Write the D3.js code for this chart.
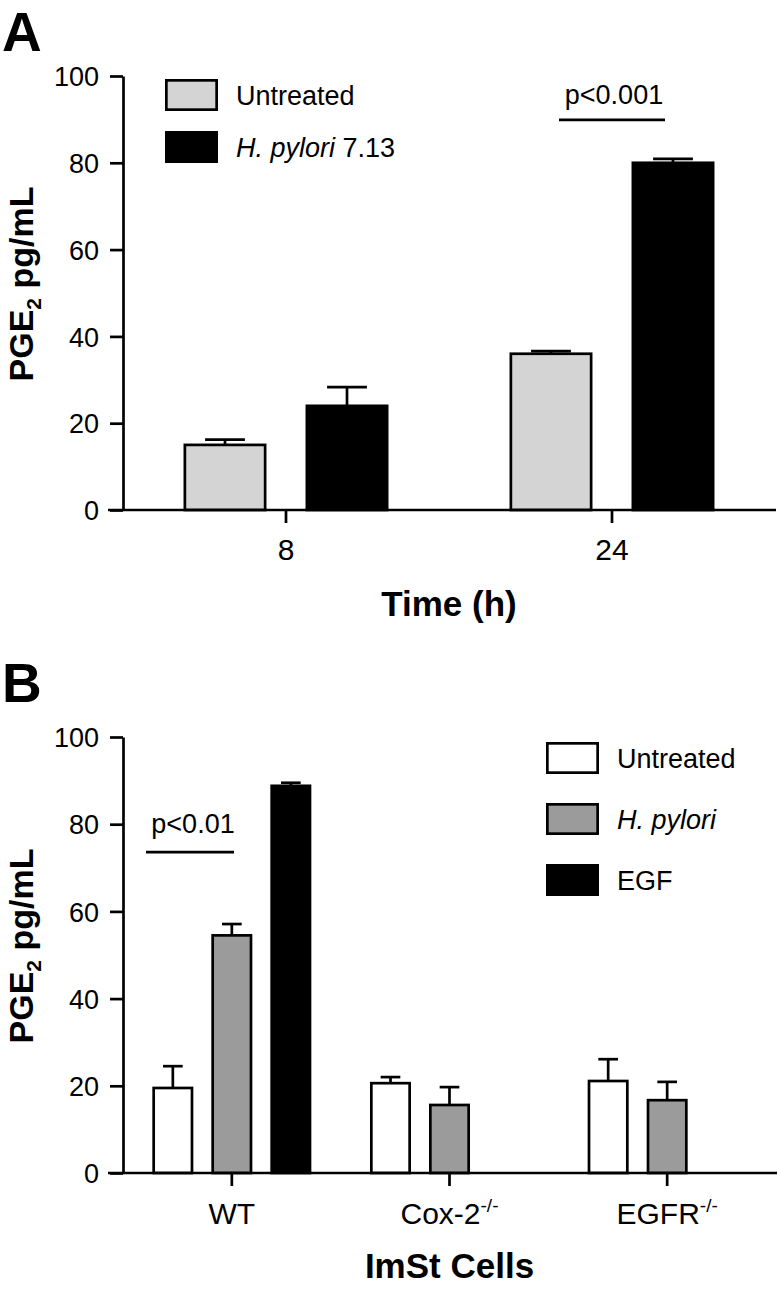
<!DOCTYPE html>
<html>
<head>
<meta charset="utf-8">
<script src="https://cdn.jsdelivr.net/npm/d3@7"></script>
<style>
  html, body { margin: 0; padding: 0; background: #fff; }
  svg { display: block; }
  text { font-family: "Liberation Sans", Arial, Helvetica, sans-serif; fill: #000; }
</style>
</head>
<body>
<svg id="chart" width="780" height="1292"></svg>
<script>
// ---------- DATA ----------
// Panel A
const timeCategories = ["8", "24"];
const seriesA = ["Untreated", "H. pylori 7.13"];
const aUntreated = [15, 36];
const aUntreatedErr = [1.2, 0.6];
const aHpylori = [24, 80];
const aHpyloriErr = [4.3, 0.9];

// Panel B
const cellCategories = ["WT", "Cox-2", "EGFR"];
const cellSuperscripts = ["", "-/-", "-/-"];
const seriesB = ["Untreated", "H. pylori", "EGF"];
const bUntreated = [19.5, 20.6, 21.1];
const bUntreatedErr = [5.0, 1.4, 5.0];
const bHpylori = [54.5, 15.6, 16.7];
const bHpyloriErr = [2.6, 4.1, 4.2];
const bEGF = [88.8, null, null];
const bEGFErr = [0.7, null, null];

const yTicks = [0, 20, 40, 60, 80, 100];

// ---------- DRAW ----------
const svg = d3.select("#chart");
const SW = 2.7;

function drawPanel(opt) {
  const g = svg.append("g");
  const y = d3.scaleLinear().domain([0, 100]).range([opt.y0, opt.y100]);
  const x = d3.scaleBand().domain(opt.categories).range([opt.xLeft, opt.xRight]).paddingInner(0).paddingOuter(0);
  const xi = d3.scaleBand().domain(opt.seriesNames).range([0, x.bandwidth()])
    .paddingInner(opt.pInner).paddingOuter(opt.pOuter);

  // bars
  opt.seriesNames.forEach((s, si) => {
    const vals = opt.values[si], errs = opt.errors[si];
    const data = opt.categories.map((c, i) => ({c, v: vals[i], e: errs[i]})).filter(d => d.v != null);
    const bg = g.append("g");
    bg.selectAll("rect").data(data).join("rect")
      .attr("x", d => x(d.c) + xi(s) + SW / 2)
      .attr("y", d => y(d.v))
      .attr("width", xi.bandwidth() - SW)
      .attr("height", d => y(0) - y(d.v))
      .attr("fill", opt.colors[si])
      .attr("stroke", "#000")
      .attr("stroke-width", SW);
    const cx = d => x(d.c) + xi(s) + xi.bandwidth() / 2;
    const hw = xi.bandwidth() * 0.24;
    bg.selectAll("line.ev").data(data).join("line").attr("class", "ev")
      .attr("x1", cx).attr("x2", cx)
      .attr("y1", d => y(d.v)).attr("y2", d => y(d.v + d.e))
      .attr("stroke", "#000").attr("stroke-width", SW);
    bg.selectAll("line.eh").data(data).join("line").attr("class", "eh")
      .attr("x1", d => cx(d) - hw).attr("x2", d => cx(d) + hw)
      .attr("y1", d => y(d.v + d.e)).attr("y2", d => y(d.v + d.e))
      .attr("stroke", "#000").attr("stroke-width", SW);
  });

  // y axis
  const ya = g.append("g").attr("transform", `translate(${opt.xLeft},0)`)
    .call(d3.axisLeft(y).tickValues(yTicks).tickSize(13).tickSizeOuter(0).tickPadding(11));
  ya.select(".domain").attr("stroke-width", SW);
  ya.selectAll(".tick line").attr("stroke-width", SW);
  ya.selectAll(".tick text").style("font-size", "27px").attr("dy", "0.36em");

  // x axis
  const xa = g.append("g").attr("transform", `translate(0,${opt.y0})`)
    .call(d3.axisBottom(x).tickSize(13).tickSizeOuter(0).tickPadding(0));
  xa.select(".domain").attr("d", `M${opt.xLeft - 15},0H${opt.xRight + 1}`).attr("stroke-width", SW);
  xa.selectAll(".tick line").attr("stroke-width", SW);
  xa.selectAll(".tick text").style("font-size", "30px").attr("y", opt.tickLabelY).attr("dy", 0)
    .each(function(d, i) {
      if (opt.superscripts && opt.superscripts[i]) {
        const t = d3.select(this);
        t.text(d);
        t.append("tspan").text(opt.superscripts[i]).attr("dy", -12).style("font-size", "19px");
      }
    });

  // x title
  g.append("text").attr("x", (opt.xLeft + opt.xRight) / 2).attr("y", opt.y0 + opt.titleY)
    .attr("text-anchor", "middle").style("font-size", "35px").style("font-weight", "bold")
    .text(opt.xTitle);

  // y title
  const yt = g.append("text")
    .attr("transform", `translate(33,${(opt.y0 + opt.y100) / 2 - 9}) rotate(-90)`)
    .attr("text-anchor", "middle").style("font-size", "34px").style("font-weight", "bold");
  yt.append("tspan").text("PGE");
  yt.append("tspan").text("2").style("font-size", "21px").attr("dy", 8);
  yt.append("tspan").text(" pg/mL").attr("dy", -8);

  // panel letter
  g.append("text").attr("x", opt.letterX).attr("y", opt.letterY)
    .style("font-size", "55px").style("font-weight", "bold").text(opt.letter);

  // legend
  opt.seriesNames.forEach((s, si) => {
    const ly = opt.legendY + si * opt.legendStep;
    g.append("rect").attr("x", opt.legendX + SW / 2).attr("y", ly + SW / 2)
      .attr("width", 53 - SW).attr("height", 32 - SW)
      .attr("fill", opt.colors[si]).attr("stroke", "#000").attr("stroke-width", SW);
    const t = g.append("text").attr("x", opt.legendX + 71).attr("y", ly + 26).style("font-size", "27px");
    opt.legendLabel(t, s);
  });

  return {g, x, xi, y};
}

function legendLabel(t, s) {
  if (s.startsWith("H. pylori")) {
    t.append("tspan").text("H. pylori").style("font-style", "italic");
    const rest = s.slice(9);
    if (rest) t.append("tspan").text(rest);
  } else {
    t.text(s);
  }
}

// Panel A
const A = drawPanel({
  categories: timeCategories, seriesNames: seriesA,
  values: [aUntreated, aHpylori], errors: [aUntreatedErr, aHpyloriErr],
  colors: ["#d4d4d4", "#000000"],
  y0: 510, y100: 76, xLeft: 123, xRight: 775,
  pInner: 0.32, pOuter: 0.496,
  tickLabelY: 50, titleY: 106, xTitle: "Time (h)",
  letter: "A", letterX: 2, letterY: 51,
  legendX: 165, legendY: 79, legendStep: 52, legendLabel
});

// Panel B
const B = drawPanel({
  categories: cellCategories, seriesNames: seriesB, superscripts: cellSuperscripts,
  values: [bUntreated, bHpylori, bEGF], errors: [bUntreatedErr, bHpyloriErr, bEGFErr],
  colors: ["#ffffff", "#9b9b9b", "#000000"],
  y0: 1173, y100: 737, xLeft: 123, xRight: 776,
  pInner: 0.305, pOuter: 0.497,
  tickLabelY: 51, titleY: 105, xTitle: "ImSt Cells",
  letter: "B", letterX: 2, letterY: 702,
  legendX: 546, legendY: 742, legendStep: 61, legendLabel
});

// significance annotations
function sig(P, xc, x1, x2, yv, label, textDy) {
  P.g.append("line").attr("x1", x1).attr("x2", x2).attr("y1", P.y(yv)).attr("y2", P.y(yv))
    .attr("stroke", "#000").attr("stroke-width", SW);
  P.g.append("text").attr("x", xc).attr("y", P.y(yv) + textDy).attr("text-anchor", "middle")
    .style("font-size", "27px").text(label);
}
const a24 = A.x("24") + A.x.bandwidth() / 2;
sig(A, a24 + 2, a24 - 53, a24 + 53, 89.9, "p<0.001", -16);
const bWT = B.x("WT");
sig(B, bWT + 70, bWT + 23, bWT + 111, 73.6, "p<0.01", -19);
</script>
</body>
</html>
